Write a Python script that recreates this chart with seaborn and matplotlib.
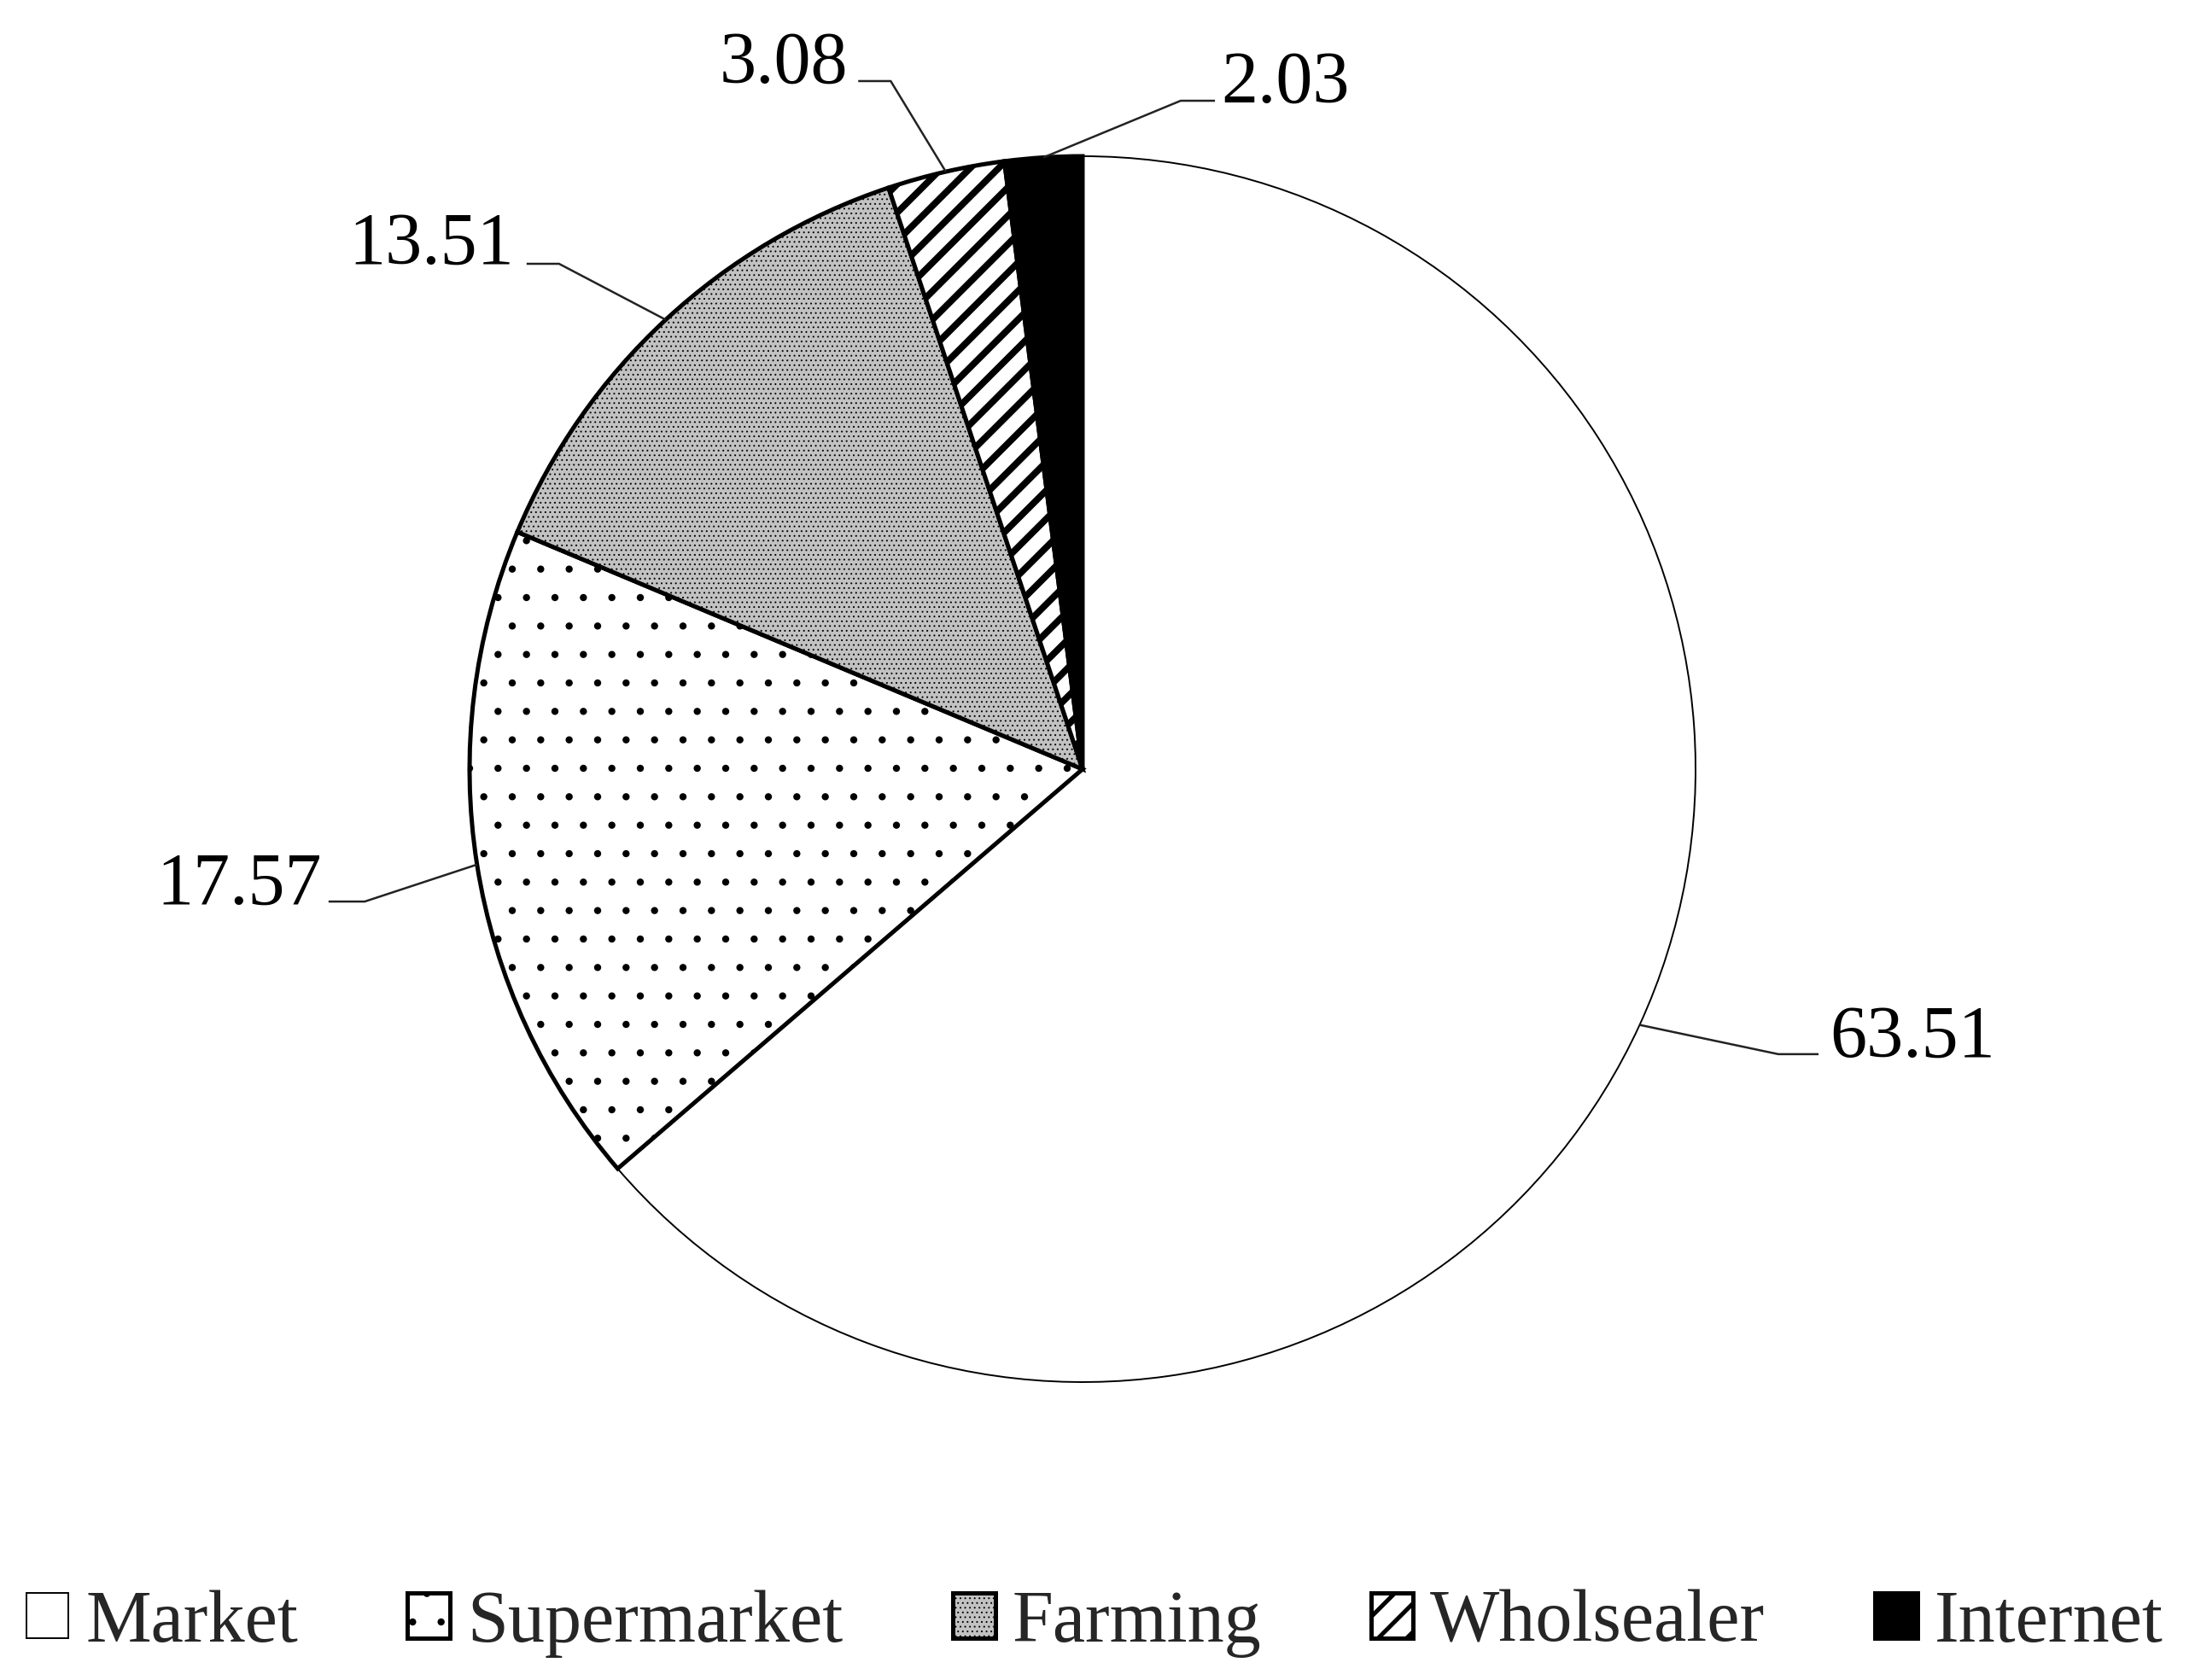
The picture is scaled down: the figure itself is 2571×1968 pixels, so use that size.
import numpy as np
import matplotlib
matplotlib.use('Agg')
import matplotlib.pyplot as plt
import seaborn as sns

categories = ['Market', 'Supermarket', 'Farming', 'Wholsealer', 'Internet']
shares = [63.51, 17.57, 13.51, 3.08, 2.03]
value_labels = ['63.51', '17.57', '13.51', '3.08', '2.03']

sns.set_theme(style='white')
plt.rcParams['font.family'] = ['Liberation Serif', 'DejaVu Serif']
plt.rcParams['hatch.linewidth'] = 0.6

W, H = 2571, 1968
fig = plt.figure(figsize=(W / 200, H / 200), dpi=200)
ax = fig.add_axes([0, 0, 1, 1])

cx, cy, R = 1268, 901, 718

facecolors = ['white', 'white', '#c2c2c2', 'white', 'black']
hatches = [None, '.', '......', '//', None]
edge_lws = [0.7, 1.8, 1.8, 1.8, 1.8]
hatch_lws = [0.5, 0.6, 0.35, 2.8, 0.5]

wedges, _ = ax.pie(shares, startangle=90, counterclock=False, radius=1,
                   wedgeprops=dict(edgecolor='black'))
for w, fc, h, lw, hlw in zip(wedges, facecolors, hatches, edge_lws, hatch_lws):
    w.set_facecolor(fc)
    w.set_hatch(h)
    w.set_linewidth(lw)
    if hasattr(w, 'set_hatch_linewidth'):
        w.set_hatch_linewidth(hlw)

ax.set_aspect('auto')
ax.set_xlim(-cx / R, (W - cx) / R)
ax.set_ylim(-(H - cy) / R, cy / R)
ax.axis('off')

# label layout: (elbow_x, end_x, line_y, text_x, text_y, ha)
layout = [
    (1.135, 1.2006, -0.465, 1.2187, -0.469, 'left'),
    (-1.171, -1.230, -0.216, -1.241, -0.219, 'right'),
    (-0.854, -0.907, 0.8245, -0.928, 0.8245, 'right'),
    (-0.313, -0.366, 1.1226, -0.383, 1.120, 'right'),
    (0.160, 0.216, 1.0905, 0.2256, 1.0877, 'left'),
]
for w, lab, (ex, nx, ly, tx, ty, ha) in zip(wedges, value_labels, layout):
    mid = np.deg2rad((w.theta1 + w.theta2) / 2)
    sx, sy = np.cos(mid), np.sin(mid)
    ax.plot([sx, ex, nx], [sy, ly, ly], color='#222222', lw=0.9,
            solid_capstyle='butt', clip_on=False, zorder=5)
    ax.text(tx, ty, lab, ha=ha, va='baseline', fontsize=31, color='black')

leg = ax.legend(wedges, categories, loc='center',
                bbox_to_anchor=(1282 / W, (H - 1902) / H), bbox_transform=fig.transFigure,
                ncol=5, frameon=False, fontsize=31, handlelength=0.58, handleheight=0.56,
                handletextpad=0.23, columnspacing=1.49, borderaxespad=0, borderpad=0)
handles = getattr(leg, 'legend_handles', None) or getattr(leg, 'legendHandles', [])
for hnd, hlw, lw in zip(handles, hatch_lws, edge_lws):
    hnd.set_linewidth(lw)
    if hasattr(hnd, 'set_hatch_linewidth'):
        hnd.set_hatch_linewidth(min(hlw, 1.8))

fig.savefig('out.png', dpi=200, facecolor='white')
